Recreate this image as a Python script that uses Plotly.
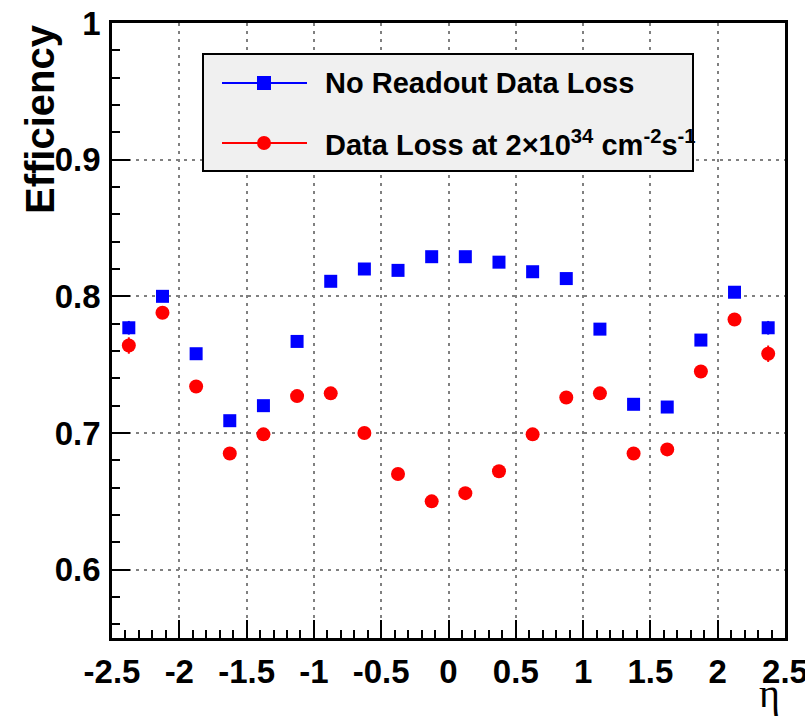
import plotly.graph_objects as go

# ---------------- data ----------------
eta = [-2.375, -2.125, -1.875, -1.625, -1.375, -1.125, -0.875, -0.625, -0.375, -0.125,
       0.125, 0.375, 0.625, 0.875, 1.125, 1.375, 1.625, 1.875, 2.125, 2.375]
eff_no_loss = [0.777, 0.800, 0.758, 0.709, 0.720, 0.767, 0.811, 0.820, 0.819, 0.829,
               0.829, 0.825, 0.818, 0.813, 0.776, 0.721, 0.719, 0.768, 0.803, 0.777]
err_no_loss = [0.005, 0.003, 0.003, 0.003, 0.003, 0.003, 0.003, 0.003, 0.003, 0.003,
               0.003, 0.003, 0.003, 0.003, 0.003, 0.003, 0.003, 0.003, 0.003, 0.005]
eff_loss = [0.764, 0.788, 0.734, 0.685, 0.699, 0.727, 0.729, 0.700, 0.670, 0.650,
            0.656, 0.672, 0.699, 0.726, 0.729, 0.685, 0.688, 0.745, 0.783, 0.758]
err_loss = [0.006, 0.003, 0.003, 0.003, 0.003, 0.003, 0.003, 0.003, 0.003, 0.003,
            0.003, 0.003, 0.003, 0.003, 0.003, 0.003, 0.003, 0.003, 0.003, 0.006]

x_tickvals = [-2.5, -2.0, -1.5, -1.0, -0.5, 0.0, 0.5, 1.0, 1.5, 2.0, 2.5]
x_ticktext = ["-2.5", "-2", "-1.5", "-1", "-0.5", "0", "0.5", "1", "1.5", "2", "2.5"]
y_tickvals = [0.6, 0.7, 0.8, 0.9, 1.0]
y_ticktext = ["0.6", "0.7", "0.8", "0.9", "1"]

series_names = ["No Readout Data Loss",
                "Data Loss at 2\u00d710<sup>34</sup> cm<sup>-2</sup>s<sup>-1</sup>"]
x_title = "\u03b7"
y_title = "Efficiency"

BLUE = "rgb(0,0,255)"
RED = "rgb(255,0,0)"
FONT = "Liberation Sans"

W, H = 805, 716
L, R, T, B = 112, 20, 23, 78
PW, PH = W - L - R, H - T - B


def px(x):
    return (x - L) / PW


def py(y):
    return (H - B - y) / PH


fig = go.Figure()
fig.add_trace(go.Scatter(
    x=eta, y=eff_no_loss, mode="markers", name=series_names[0],
    marker=dict(symbol="square", size=13, color=BLUE, line=dict(width=0)),
    error_y=dict(type="data", array=err_no_loss, color=BLUE, thickness=2, width=0),
    showlegend=False))
fig.add_trace(go.Scatter(
    x=eta, y=eff_loss, mode="markers", name=series_names[1],
    marker=dict(symbol="circle", size=14, color=RED, line=dict(width=0)),
    error_y=dict(type="data", array=err_loss, color=RED, thickness=2, width=0),
    showlegend=False))

grid_dash = "3px,5px"
axis_common = dict(
    showline=True, linecolor="black", linewidth=2.5, mirror=True,
    ticks="inside", ticklen=18, tickwidth=2, tickcolor="black",
    showgrid=True, gridcolor="rgb(128,128,128)", gridwidth=1.5, griddash=grid_dash,
    zeroline=False, automargin=False, ticklabeloverflow="allow",
    tickfont=dict(family=FONT, size=33, color="black", weight="bold"),
)

fig.update_xaxes(
    range=[-2.5, 2.5], tickmode="array", tickvals=x_tickvals, ticktext=x_ticktext,
    minor=dict(tickmode="linear", tick0=0, dtick=0.1, ticks="inside", ticklen=8,
               tickwidth=2, tickcolor="black", showgrid=False),
    ticklabelstandoff=3,
    **axis_common)
fig.update_yaxes(
    range=[0.55, 1.0], tickmode="array", tickvals=y_tickvals, ticktext=y_ticktext,
    minor=dict(tickmode="linear", tick0=0, dtick=0.02, ticks="inside", ticklen=8,
               tickwidth=2, tickcolor="black", showgrid=False),
    ticklabelstandoff=2,
    **axis_common)

shapes = []
annotations = []

# legend box
lx0, lx1, ly0, ly1 = 203, 693, 54, 171
shapes.append(dict(type="rect", xref="paper", yref="paper",
                   x0=px(lx0), x1=px(lx1), y0=py(ly1), y1=py(ly0),
                   fillcolor="rgb(240,240,240)", line=dict(color="black", width=2),
                   layer="above"))
entries = [(83, BLUE, "rect", series_names[0]), (143, RED, "circle", series_names[1])]
for ey, col, sym, label in entries:
    shapes.append(dict(type="line", xref="paper", yref="paper",
                       x0=px(222), x1=px(307), y0=py(ey), y1=py(ey),
                       line=dict(color=col, width=2), layer="above"))
    half = 7
    shapes.append(dict(type=sym, xref="paper", yref="paper",
                       xsizemode="pixel", ysizemode="pixel",
                       xanchor=px(264), yanchor=py(ey),
                       x0=-half, x1=half, y0=-half, y1=half,
                       fillcolor=col, line=dict(width=0), layer="above"))
    annotations.append(dict(xref="paper", yref="paper", x=px(323), y=py(ey),
                            xanchor="left", yanchor="middle", showarrow=False,
                            text=label,
                            font=dict(family=FONT, size=29, color="black", weight="bold")))

# axis titles
annotations.append(dict(xref="paper", yref="paper", x=px(40), y=py(119),
                        xanchor="center", yanchor="middle", showarrow=False,
                        textangle=-90, text=y_title,
                        font=dict(family=FONT, size=40, color="black", weight="bold")))
annotations.append(dict(xref="paper", yref="paper", x=px(769), y=py(693),
                        xanchor="center", yanchor="middle", showarrow=False,
                        text=x_title,
                        font=dict(family="Liberation Serif", size=40, color="black")))

fig.update_layout(
    template="none",
    width=W, height=H,
    margin=dict(l=L, r=R, t=T, b=B, pad=0),
    paper_bgcolor="white", plot_bgcolor="white",
    shapes=shapes, annotations=annotations,
    showlegend=False,
)

fig.write_html("out.html")
